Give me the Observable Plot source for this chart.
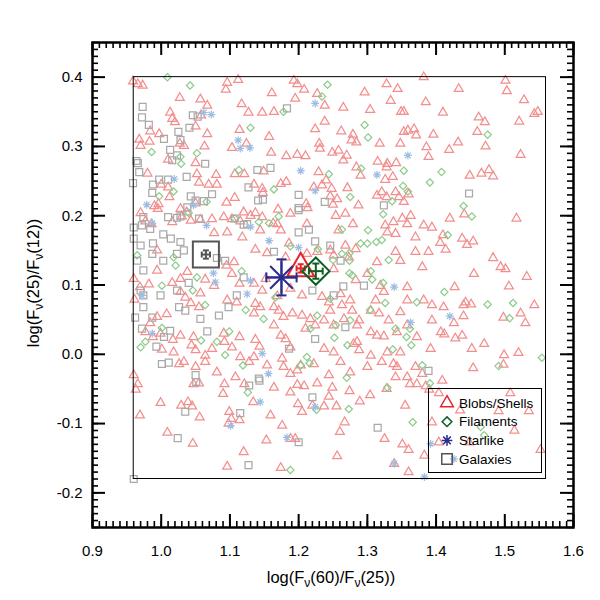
<!DOCTYPE html>
<html><head><meta charset="utf-8">
<script src="https://cdn.jsdelivr.net/npm/d3@7"></script>
<script src="https://cdn.jsdelivr.net/npm/@observablehq/plot@0.6"></script>
<style>
body{margin:0;background:#fff;}
#wrap{position:relative;width:600px;height:600px;font-family:"Liberation Sans",Arial,Helvetica,sans-serif;color:#000;}
.ttl{position:absolute;font-size:16.5px;line-height:20px;text-align:center;white-space:nowrap;}
.ttl sub{font-size:12px;vertical-align:-4px;line-height:0;}
</style></head><body><div id="wrap"></div>
<script>
// ---- data ----
const xLabel = "log(F<sub>ν</sub>(60)/F<sub>ν</sub>(25))";
const yLabel = "log(F<sub>ν</sub>(25)/F<sub>ν</sub>(12))";
const xMajor = [0.9,1.0,1.1,1.2,1.3,1.4,1.5,1.6];
const yMajor = [-0.2,-0.1,0.0,0.1,0.2,0.3,0.4];
const classNames = ["Blobs/Shells","Filaments","Starlike","Galaxies"];
const innerBox = [{x1:0.96,x2:1.56,y1:-0.18,y2:0.40}];
const meanX = [1.203,1.225,1.175,1.065];
const meanY = [0.124,0.120,0.111,0.144];
const errX  = [0.006,0.010,0.022,0.006];
const errY  = [0.006,0.011,0.026,0.006];

const blobs = [
[0.959,0.394],[0.966,0.390],[0.973,0.388],[1.027,0.370],[1.057,0.368],[1.067,0.359],[1.013,0.349],[1.016,0.340],[1.020,0.335],[0.984,0.322],
[0.968,0.310],[0.970,0.301],[0.983,0.307],[0.997,0.318],[1.027,0.304],[1.033,0.301],[1.050,0.329],[1.058,0.345],[1.067,0.318],[1.063,0.300],
[1.096,0.392],[1.094,0.382],[1.112,0.396],[1.117,0.361],[1.127,0.349],[1.147,0.349],[1.114,0.324],[1.103,0.298],[1.124,0.304],[1.157,0.314],
[1.160,0.291],[1.010,0.281],[0.980,0.261],[1.050,0.276],[1.052,0.260],[1.055,0.248],[1.080,0.259],[1.081,0.245],[1.069,0.245],[1.107,0.260],
[1.121,0.260],[1.149,0.264],[1.135,0.245],[1.147,0.239],[1.148,0.233],[1.095,0.219],[1.107,0.226],[0.996,0.217],[1.000,0.245],[1.010,0.241],
[1.012,0.227],[0.990,0.214],[0.995,0.210],[1.028,0.210],[1.050,0.218],[0.970,0.204],[1.037,0.205],[1.091,0.198],[1.103,0.195],[1.120,0.205],
[1.130,0.200],[1.137,0.204],[1.147,0.198],[1.163,0.189],[0.977,0.192],[0.986,0.188],[1.016,0.191],[1.030,0.199],[1.043,0.193],[1.057,0.194],
[1.074,0.195],[1.115,0.192],
[1.193,0.395],[1.198,0.390],[1.208,0.382],[1.227,0.376],[1.195,0.369],[1.164,0.350],[1.161,0.377],[1.238,0.359],[1.265,0.356],[1.238,0.336],
[1.224,0.325],[1.262,0.322],[1.279,0.317],[1.277,0.309],[1.284,0.306],[1.230,0.304],[1.231,0.297],[1.249,0.291],[1.258,0.294],[1.270,0.287],
[1.265,0.280],[1.182,0.286],[1.198,0.288],[1.210,0.286],[1.229,0.263],[1.222,0.241],[1.234,0.244],[1.240,0.251],[1.248,0.239],[1.246,0.228],
[1.256,0.224],[1.250,0.216],[1.271,0.240],[1.284,0.270],[1.290,0.258],[1.287,0.215],[1.211,0.217],[1.213,0.211],[1.174,0.246],[1.182,0.249],
[1.170,0.209],[1.296,0.378],[1.304,0.353],[1.328,0.390],[1.344,0.383],[1.334,0.366],[1.349,0.350],[1.353,0.350],[1.385,0.364],[1.382,0.400],
[1.353,0.321],[1.368,0.325],[1.371,0.316],[1.359,0.323],[1.386,0.299],[1.389,0.285],[1.348,0.304],[1.318,0.304],[1.315,0.278],[1.329,0.275],
[1.328,0.270],[1.342,0.276],[1.337,0.256],[1.326,0.252],[1.314,0.229],[1.321,0.234],[1.328,0.227],[1.341,0.234],[1.346,0.227],[1.353,0.220],
[1.360,0.231],
[1.501,0.395],[1.503,0.380],[1.433,0.383],[1.528,0.367],[1.410,0.349],[1.462,0.342],[1.471,0.335],[1.521,0.336],[1.543,0.347],[1.548,0.350],
[1.460,0.321],[1.396,0.317],[1.432,0.306],[1.419,0.295],[1.472,0.300],[1.523,0.288],[1.449,0.258],[1.466,0.261],[1.477,0.266],[1.483,0.257],
[1.077,0.175],[1.096,0.176],[1.118,0.169],[1.144,0.179],[1.154,0.146],[1.137,0.151],[0.994,0.150],[0.994,0.121],[0.960,0.109],[0.969,0.097],
[0.982,0.101],[1.016,0.103],[1.028,0.109],[1.038,0.119],[1.064,0.108],[1.077,0.099],[1.095,0.128],[1.106,0.133],[1.103,0.116],[1.114,0.102],
[1.135,0.102],[1.147,0.092],[1.152,0.109],[1.028,0.090],[1.035,0.082],[1.043,0.074],[1.055,0.068],[1.057,0.088],[1.096,0.078],[1.110,0.075],
[1.137,0.073],[1.144,0.068],[1.135,0.059],[1.164,0.042],[1.008,0.058],[0.994,0.054],[0.984,0.045],[0.977,0.032],[0.988,0.025],[0.999,0.030],
[1.017,0.021],[1.028,0.027],[1.047,0.025],[1.044,0.013],[1.050,0.006],[1.064,-0.002],[1.074,0.008],[1.091,0.030],[1.092,0.018],[1.114,0.025],
[1.137,0.021],[1.143,0.011],[1.135,-0.004],[1.154,-0.016],[1.115,-0.004],[1.103,0.010],[1.128,-0.011],[1.108,-0.033],[1.081,-0.026],[1.064,-0.011],
[1.050,-0.018],[1.033,-0.011],[1.026,-0.014],[1.018,0.003],[1.001,0.007],[0.960,-0.030],[0.961,0.079],
[1.169,0.188],[1.188,0.203],[1.212,0.188],[1.254,0.200],[1.268,0.203],[1.258,0.179],[1.279,0.188],[1.174,0.179],[1.186,0.160],[1.181,0.140],
[1.212,0.145],[1.227,0.148],[1.246,0.150],[1.251,0.143],[1.268,0.157],[1.283,0.152],[1.273,0.140],[1.251,0.123],[1.283,0.107],[1.300,0.116],
[1.314,0.133],[1.326,0.186],[1.329,0.176],[1.338,0.191],[1.351,0.196],[1.363,0.200],[1.358,0.188],[1.341,0.174],[1.370,0.169],[1.382,0.186],
[1.341,0.148],[1.370,0.148],[1.389,0.148],[1.348,0.135],[1.380,0.126],[1.358,0.097],[1.319,0.099],[1.324,0.090],[1.382,0.078],[1.358,0.078],
[1.348,0.061],[1.331,0.049],[1.312,0.078],[1.305,0.063],[1.317,0.059],[1.288,0.049],[1.278,0.063],[1.263,0.071],[1.275,0.078],[1.261,0.087],
[1.234,0.083],[1.244,0.075],[1.246,0.063],[1.205,0.085],[1.188,0.095],[1.169,0.084],[1.164,0.068],[1.171,0.063],[1.178,0.054],[1.191,0.059],
[1.205,0.056],[1.217,0.051],[1.210,0.037],[1.224,0.042],[1.237,0.049],[1.251,0.042],[1.266,0.051],[1.285,0.042],[1.305,0.032],[1.314,0.027],
[1.324,0.026],[1.343,0.032],[1.358,0.042],[1.372,0.025],[1.392,0.008],[1.370,-0.018],[1.380,-0.028],[1.348,0.003],[1.338,-0.014],[1.343,-0.018],
[1.329,0.003],[1.321,-0.011],[1.305,-0.002],[1.288,0.006],[1.280,0.015],[1.285,0.018],[1.300,-0.018],[1.275,-0.026],[1.261,-0.011],[1.251,0.003],
[1.237,0.008],[1.222,-0.014],[1.203,-0.016],[1.198,-0.023],[1.188,-0.028],[1.176,-0.006],[1.178,-0.018],[1.174,0.027],[1.181,0.022],[1.188,0.010],
[1.244,-0.030],[1.341,-0.033],[1.358,-0.033],
[1.420,0.196],[1.441,0.202],[1.517,0.196],[1.394,0.183],[1.410,0.172],[1.406,0.161],[1.414,0.151],[1.438,0.167],[1.445,0.158],[1.454,0.163],
[1.483,0.139],[1.494,0.126],[1.501,0.123],[1.455,0.116],[1.532,0.112],[1.427,0.097],[1.506,0.098],[1.394,0.071],[1.411,0.068],[1.440,0.071],
[1.443,0.075],[1.451,0.072],[1.543,0.071],[1.523,0.059],[1.530,0.045],[1.498,0.053],[1.440,0.055],[1.426,0.045],[1.394,0.049],[1.407,0.032],
[1.412,0.029],[1.428,0.023],[1.438,0.027],[1.470,0.015],[1.452,0.008],[1.499,-0.001],[1.520,0.002],[1.498,-0.015],[1.454,-0.020],
[0.966,-0.043],[0.963,-0.051],[0.999,-0.070],[1.029,-0.074],[1.039,-0.069],[1.045,-0.075],[0.969,-0.088],[1.056,-0.091],[1.009,-0.113],[1.046,-0.129],
[1.090,-0.057],[1.092,-0.043],[1.099,-0.083],[1.102,-0.093],[1.114,-0.095],[1.098,-0.100],[1.120,-0.141],[1.096,-0.162],[1.134,-0.069],[1.159,-0.088],
[1.153,-0.124],[1.047,-0.043],[1.055,-0.042],[1.121,-0.043],
[1.164,-0.048],[1.188,-0.055],[1.198,-0.044],[1.208,-0.046],[1.227,-0.042],[1.249,-0.048],[1.274,-0.053],[1.244,-0.061],[1.199,-0.072],[1.205,-0.083],
[1.220,-0.074],[1.237,-0.075],[1.255,-0.075],[1.289,-0.068],[1.304,-0.059],[1.267,-0.098],[1.260,-0.112],[1.176,-0.103],[1.188,-0.122],[1.195,-0.122],
[1.256,-0.147],[1.174,-0.164],[1.325,-0.122],[1.351,-0.130],[1.360,-0.138],[1.355,-0.074],[1.362,-0.043],[1.372,-0.043],[1.360,-0.170],[1.339,-0.158],
[1.328,-0.050],
[1.385,-0.046],[1.404,-0.056],[1.390,-0.051],[1.409,-0.038],[1.508,-0.056],[1.491,-0.082],[1.535,-0.082],[1.514,-0.110],[1.552,-0.138],[1.394,-0.098],
[1.404,-0.127],[1.383,-0.146],[1.435,-0.081],[1.448,-0.127]
];

const filaments = [
[1.009,0.400],[1.042,0.388],[1.130,0.327],[0.986,0.292],[1.052,0.290],[1.028,0.285],[1.029,0.275],[1.113,0.266],[0.997,0.228],[1.018,0.235],
[1.066,0.220],[1.040,0.204],[1.107,0.196],[1.157,0.189],[1.142,0.191],
[1.242,0.389],[1.234,0.372],[1.178,0.350],[1.296,0.331],[1.301,0.313],[1.244,0.260],[1.291,0.268],[1.353,0.265],[1.391,0.248],[1.352,0.243],
[1.359,0.235],[1.275,0.227],[1.336,0.221],[1.164,0.238],[1.263,0.180],
[1.475,0.317],[1.408,0.263],[1.440,0.214],
[0.965,0.143],[1.001,0.099],[1.018,0.140],[1.021,0.128],[1.052,0.111],[1.046,0.092],[1.064,0.071],[1.117,0.120],[1.123,0.064],[1.149,0.051],
[1.001,0.038],[0.970,0.010],[0.977,0.018],[1.058,0.020],[1.081,0.018],[1.093,-0.001],[1.099,0.033],[1.119,-0.016],
[1.323,0.202],[1.301,0.179],[1.290,0.160],[1.300,0.160],[1.313,0.162],[1.321,0.165],[1.188,0.156],[1.228,0.152],[1.263,0.145],[1.274,0.146],
[1.274,0.135],[1.250,0.136],[1.274,0.117],[1.278,0.114],[1.305,0.120],[1.307,0.108],[1.331,0.136],[1.323,0.103],[1.246,0.080],[1.326,0.074],
[1.372,0.075],[1.304,0.064],[1.227,0.056],[1.275,0.049],[1.254,0.042],[1.217,0.037],[1.252,0.024],[1.341,0.037],[1.362,0.037],[1.357,0.025],
[1.337,0.007],[1.364,0.013],[1.271,0.013],[1.212,-0.004],[1.216,-0.013],[1.203,-0.016],[1.380,-0.016],[1.270,-0.034],[1.166,0.082],[1.171,0.199],
[1.452,0.199],[1.417,0.172],[1.412,0.090],[1.475,0.072],[1.512,0.074],[1.507,0.052],[1.554,-0.005],[1.491,-0.017],
[1.126,-0.055],[1.226,-0.080],[1.273,-0.079],[1.329,-0.048],[1.366,-0.098],[1.188,-0.167],
[1.391,-0.042],[1.465,-0.105],[1.470,-0.117]
];

const starlike = [
[1.062,0.349],[1.073,0.346],[1.112,0.309],[1.115,0.297],[1.129,0.298],[1.019,0.253],[0.979,0.216],[1.047,0.215],[1.130,0.184],
[1.224,0.362],[1.203,0.265],[1.224,0.236],[1.359,0.287],[1.314,0.259],
[0.987,0.189],[1.066,0.186],[1.157,0.164],[1.076,0.117],[1.079,0.104],[1.130,0.106],[1.125,0.087],[0.987,0.030],[1.147,0.001],[1.156,-0.028],[0.972,0.085],
[1.200,0.154],[1.339,0.097],[1.363,0.046],[1.420,0.055],
[1.144,-0.069],[1.101,-0.103],[1.183,-0.120],[1.224,-0.076],[1.339,-0.158],
[1.392,-0.129],[1.383,-0.177],[1.426,-0.151]
];

const galaxies = [
[0.973,0.357],[0.972,0.342],[0.982,0.331],[1.004,0.311],[1.025,0.321],[1.013,0.295],[1.028,0.309],[1.041,0.327],[1.046,0.345],[1.053,0.343],
[1.064,0.275],[0.959,0.247],[0.966,0.276],[0.968,0.263],[0.988,0.245],[0.987,0.233],[0.997,0.252],[1.010,0.252],[1.037,0.256],[1.043,0.228],
[1.074,0.231],[1.062,0.221],[1.050,0.222],[1.038,0.212],[1.127,0.241],[1.140,0.266],[1.159,0.269],[1.148,0.223],[1.141,0.222],[1.023,0.287],
[1.016,0.280],[0.964,0.279],
[1.183,0.355],[1.200,0.230],[1.200,0.211],[1.238,0.220],[1.324,0.215],[1.448,0.232],
[0.960,0.183],[0.972,0.186],[0.984,0.181],[0.974,0.198],[1.023,0.197],[1.028,0.199],[1.010,0.198],[1.055,0.196],[1.107,0.196],[1.120,0.187],
[1.003,0.173],[1.014,0.167],[1.028,0.162],[1.023,0.145],[0.988,0.160],[0.987,0.145],[0.974,0.121],[0.965,0.135],[1.003,0.135],[1.033,0.150],
[1.040,0.103],[1.023,0.092],[0.970,0.092],[0.974,0.085],[0.974,0.068],[0.962,0.053],[0.987,0.053],[0.999,0.085],[1.026,0.068],[1.035,0.063],
[1.057,0.051],[1.067,0.033],[1.084,0.056],[1.098,0.068],[1.110,0.085],[1.093,0.135],[1.081,0.139],[0.972,0.037],[0.993,0.011],[1.001,-0.014],
[1.011,-0.012],[1.013,0.034],[1.004,0.025],[1.050,-0.030],[1.142,-0.035],[1.120,0.111],[1.125,0.188],[0.960,0.167],[0.970,0.157],
[1.200,0.208],[1.215,0.180],[1.200,0.176],[1.224,0.163],[1.246,0.157],[1.164,0.148],[1.261,0.135],[1.265,0.098],[1.295,0.099],[1.220,0.092],
[1.251,0.085],[1.268,0.039],[1.224,0.022],[1.186,0.008],[1.389,-0.024],
[1.035,-0.083],[1.024,-0.121],[1.115,-0.085],[1.127,-0.160],[0.960,-0.180],[1.128,-0.045],[1.051,-0.040],[1.143,-0.038],
[1.220,-0.062],[1.315,-0.106],[1.200,-0.127]
];

// ---- styles / symbols ----
const pale = {blobs:"#f48e8e", fil:"#8ccb8c", star:"#9dbde2", gal:"#a9a9a9"};
const dark = ["#e8222b","#0c5e22","#272c8e","#555555"];
const asterisk8 = {draw(ctx,size){const r=Math.sqrt(size/Math.PI),d=r*Math.SQRT1_2;
  ctx.moveTo(-r,0);ctx.lineTo(r,0);ctx.moveTo(0,-r);ctx.lineTo(0,r);
  ctx.moveTo(-d,-d);ctx.lineTo(d,d);ctx.moveTo(-d,d);ctx.lineTo(d,-d);}};
const hcap = {draw(ctx,size){const r=Math.sqrt(size/Math.PI);ctx.moveTo(-r,0);ctx.lineTo(r,0);}};
const vcap = {draw(ctx,size){const r=Math.sqrt(size/Math.PI);ctx.moveTo(0,-r);ctx.lineTo(0,r);}};

const toObj = a => a.map(([x,y]) => ({x,y}));
const means = classNames.map((n,i)=>({n,i,x:meanX[i],y:meanY[i],ex:errX[i],ey:errY[i]}));
const meanSym = ["triangle","diamond2",asterisk8,"square"];
const meanR = [10,12.3,16,14.7];
const capR = [3,3.5,5,3];

const xMinor = d3.ticks(0.9,1.6,70);
const yMinor = d3.ticks(-0.25,0.45,70);
const FW = 481, FH = 485;

const marks = [
  Plot.dot(toObj(blobs),{x:"x",y:"y",symbol:"triangle",r:3.3,fill:"none",stroke:pale.blobs,strokeWidth:1.25}),
  Plot.dot(toObj(filaments),{x:"x",y:"y",symbol:"diamond2",r:3.3,fill:"none",stroke:pale.fil,strokeWidth:1.2}),
  Plot.dot(toObj(galaxies),{x:"x",y:"y",symbol:"square",r:3.9,fill:"none",stroke:pale.gal,strokeWidth:1.25}),
  Plot.dot(toObj(starlike),{x:"x",y:"y",symbol:asterisk8,r:4,fill:"none",stroke:pale.star,strokeWidth:1.2}),
  Plot.rect(innerBox,{x1:"x1",x2:"x2",y1:"y1",y2:"y2",fill:"none",stroke:"#000",strokeWidth:1})
];
means.forEach(m=>{
  const c = dark[m.i];
  marks.push(
    Plot.dot([m],{x:"x",y:"y",symbol:meanSym[m.i],r:meanR[m.i],fill:"none",stroke:c,strokeWidth:2}),
    Plot.link([m],{x1:d=>d.x-d.ex,x2:d=>d.x+d.ex,y1:"y",y2:"y",stroke:c,strokeWidth:2}),
    Plot.link([m],{x1:"x",x2:"x",y1:d=>d.y-d.ey,y2:d=>d.y+d.ey,stroke:c,strokeWidth:2}),
    Plot.dot([m,m],{x:(d,j)=>j?d.x+d.ex:d.x-d.ex,y:"y",symbol:vcap,r:capR[m.i],fill:"none",stroke:c,strokeWidth:2}),
    Plot.dot([m,m],{x:"x",y:(d,j)=>j?d.y+d.ey:d.y-d.ey,symbol:hcap,r:capR[m.i],fill:"none",stroke:c,strokeWidth:2})
  );
});
marks.push(
  Plot.ruleX(xMinor,{insetTop:FH-6,stroke:"#000",strokeWidth:1.6}),
  Plot.ruleX(xMinor,{insetBottom:FH-6,stroke:"#000",strokeWidth:1.6}),
  Plot.ruleX(xMajor,{insetTop:FH-13,stroke:"#000",strokeWidth:2}),
  Plot.ruleX(xMajor,{insetBottom:FH-13,stroke:"#000",strokeWidth:2}),
  Plot.ruleY(yMinor,{insetRight:FW-6,stroke:"#000",strokeWidth:1.6}),
  Plot.ruleY(yMinor,{insetLeft:FW-6,stroke:"#000",strokeWidth:1.6}),
  Plot.ruleY(yMajor,{insetRight:FW-13,stroke:"#000",strokeWidth:2}),
  Plot.ruleY(yMajor,{insetLeft:FW-13,stroke:"#000",strokeWidth:2}),
  Plot.axisX(xMajor,{anchor:"bottom",tickSize:0,tickPadding:18,tickFormat:d=>d.toFixed(1),fontSize:15,label:null}),
  Plot.axisY(yMajor,{anchor:"left",tickSize:0,tickPadding:10,tickFormat:d=>d.toFixed(1),fontSize:15,label:null}),
  Plot.frame({stroke:"#000",strokeWidth:2.5})
);

const chart = Plot.plot({
  width:600,height:600,marginLeft:92,marginRight:27,marginTop:42,marginBottom:73,
  x:{domain:[0.9,1.6]}, y:{domain:[-0.25,0.45]},
  style:{fontFamily:'"Liberation Sans",Arial,Helvetica,sans-serif',background:"#fff",color:"#000"},
  marks
});
const wrap = document.getElementById("wrap");
wrap.appendChild(chart);

// axis titles
const xt = document.createElement("div");
xt.className="ttl"; xt.innerHTML=xLabel;
Object.assign(xt.style,{left:"181px",width:"300px",top:"567px"});
wrap.appendChild(xt);
const yt = document.createElement("div");
yt.className="ttl"; yt.innerHTML=yLabel;
Object.assign(yt.style,{left:"-117px",width:"300px",top:"273px",transform:"rotate(-90deg)"});
wrap.appendChild(yt);

// legend
const lg = d3.select(wrap).append("svg")
  .attr("width",114).attr("height",85)
  .style("position","absolute").style("left","428px").style("top","388px");
lg.append("rect").attr("x",0.5).attr("y",0.5).attr("width",113).attr("height",84)
  .attr("fill","none").attr("stroke","#000").attr("stroke-width",1);
const legSym = [d3.symbolTriangle, d3.symbolDiamond2, asterisk8, d3.symbolSquare];
const legSize = [70, 60, 90, 110];
classNames.forEach((n,i)=>{
  const cy = 15 + i*18.7;
  lg.append("path").attr("transform",`translate(19,${cy})`)
    .attr("d",d3.symbol(legSym[i],legSize[i])())
    .attr("fill","none").attr("stroke",dark[i]).attr("stroke-width",1.5);
  lg.append("text").attr("x",31).attr("y",cy).attr("dy","0.35em")
    .attr("font-size",13.5).attr("font-family",'"Liberation Sans",Arial,sans-serif').text(n);
});
</script></body></html>
